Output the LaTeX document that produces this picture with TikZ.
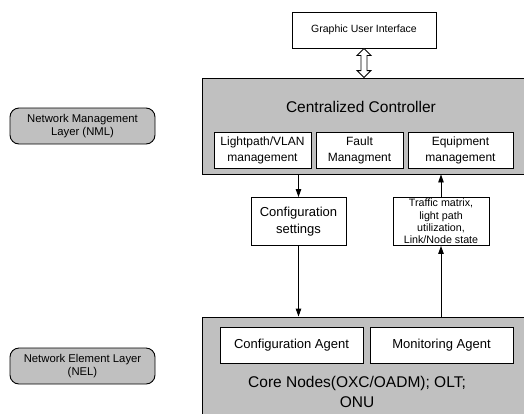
\documentclass[tikz,border=0pt]{standalone}
\usepackage{fontspec}
\setmainfont{Liberation Sans}
\usetikzlibrary{arrows.meta,calc}
\definecolor{boxgray}{RGB}{192,192,192}
\tikzset{
  whitebox/.style={draw=black, fill=white, line width=0.9pt, inner sep=0pt, align=center},
  graybox/.style={draw=black, fill=boxgray, line width=0.9pt, inner sep=0pt},
  layerbox/.style={draw=black, fill=boxgray, line width=0.9pt, rounded corners=9pt, inner sep=0pt, align=center,
    minimum width=145pt, minimum height=36pt, font=\fontsize{11.3}{13}\selectfont},
  conn/.style={line width=0.9pt, -{Triangle[length=8pt,width=5.5pt]}},
}
\begin{document}
\begin{tikzpicture}[x=1pt,y=-1pt]
\useasboundingbox (0,0) rectangle (524,413);
\clip (0,0) rectangle (524,413);
% layer labels
\node[layerbox] (nml) at (82.5,126) {Network Management\\Layer (NML)};
\node[layerbox] (nel) at (82.5,366) {Network Element Layer\\(NEL)};
% GUI
\node[whitebox, minimum width=144pt, minimum height=36pt, font=\fontsize{10.5}{12}\selectfont] (gui) at (364,30) {Graphic User Interface};
% controller
\node[graybox, minimum width=324pt, minimum height=96pt] (ctrl) at (364,126) {};
\node[font=\fontsize{15.5}{18}\selectfont, inner sep=0pt] (ctrltitle) at (361,107) {Centralized Controller};
\node[whitebox, minimum width=97pt, minimum height=36pt, font=\fontsize{12}{16}\selectfont] (lp) at (262.5,150) {Lightpath/VLAN\\management};
\node[whitebox, minimum width=87pt, minimum height=36pt, font=\fontsize{12}{16}\selectfont] (fault) at (359.5,150) {Fault\\Managment};
\node[whitebox, minimum width=105pt, minimum height=36pt, font=\fontsize{12}{16}\selectfont] (equip) at (460.5,150) {Equipment\\management};
% middle boxes
\node[whitebox, minimum width=95pt, minimum height=48pt, font=\fontsize{13}{17}\selectfont] (conf) at (298.5,221.5) {Configuration\\settings};
\node[whitebox, minimum width=96pt, minimum height=48pt, font=\fontsize{10.7}{12.3}\selectfont] (traf) at (441,221.5) {Traffic matrix,\\light path\\utilization,\\Link/Node state};
% NEL block
\node[graybox, minimum width=324pt, minimum height=104pt] (core) at (364,369) {};
\node[whitebox, minimum width=143pt, minimum height=36pt, font=\fontsize{13}{16}\selectfont] (cagent) at (291.5,345) {Configuration Agent};
\node[whitebox, minimum width=143pt, minimum height=36pt, font=\fontsize{13}{16}\selectfont] (magent) at (441.5,345) {Monitoring Agent};
\node[font=\fontsize{15.5}{20}\selectfont, inner sep=0pt, align=center] (coretext) at (357,392) {Core Nodes(OXC/OADM); OLT;\\ONU};
% double arrow GUI <-> controller
\coordinate (dt) at (gui.south);
\coordinate (db) at (gui.south |- ctrl.north);
\draw[line width=0.9pt, fill=white] (dt) -- ++(7,7) -- ++(-4,0) -- ($(db)+(3,-7)$) -- ++(4,0) -- (db)
  -- ++(-7,-7) -- ++(4,0) -- ($(dt)+(-3,7)$) -- ++(-4,0) -- cycle;
% connectors
\draw[conn] (ctrl.south -| conf.north) -- (conf.north);
\draw[conn] (conf.south) -- (conf.south |- core.north);
\draw[conn] (core.north -| traf.south) -- (traf.south);
\draw[conn] (traf.north) -- (traf.north |- ctrl.south);
\end{tikzpicture}
\end{document}
